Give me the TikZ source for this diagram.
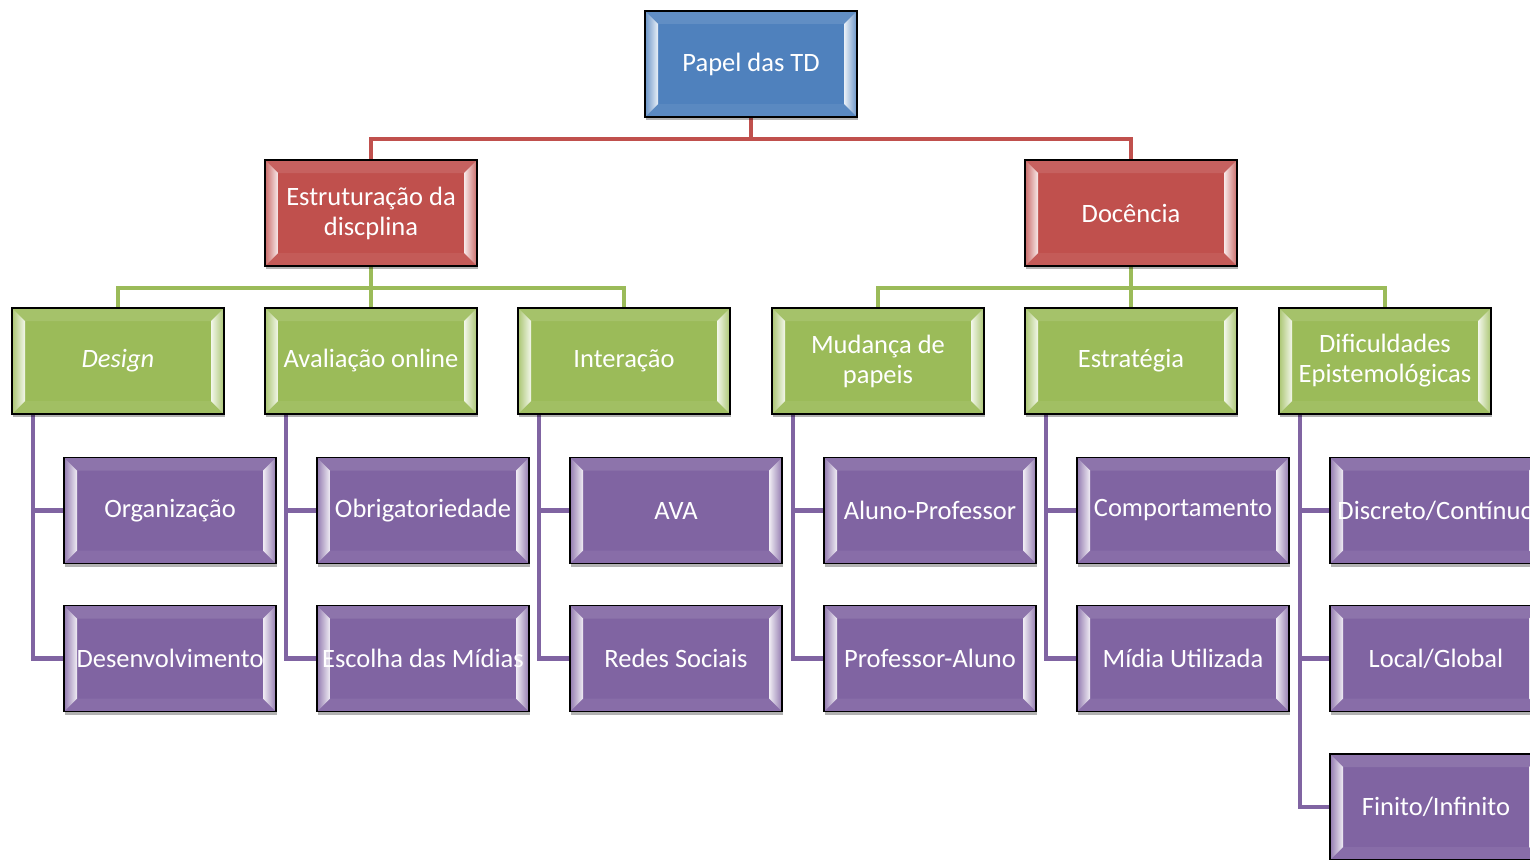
\documentclass[tikz,border=0pt]{standalone}
\usepackage{fontspec}
\setmainfont{Carlito}
\usetikzlibrary{shadows,calc,backgrounds}

\definecolor{tdblue}{HTML}{4F81BD}
\definecolor{tdred}{HTML}{C0504D}
\definecolor{tdgreen}{HTML}{9BBB59}
\definecolor{tdpurple}{HTML}{8064A2}

% bevelled box: light strips along the left and right edges, faint ones top and bottom
\newcommand\bevelstrips[1]{%
  \coordinate (pnw) at (path picture bounding box.north west);
  \coordinate (pne) at (path picture bounding box.north east);
  \coordinate (psw) at (path picture bounding box.south west);
  \coordinate (pse) at (path picture bounding box.south east);
  \fill[#1!90!white] (pnw) -- (pne) -- ($(pne)+(-13pt,-13pt)$) -- ($(pnw)+(13pt,-13pt)$) -- cycle;
  \fill[#1!94!white] (psw) -- (pse) -- ($(pse)+(-13pt,13pt)$) -- ($(psw)+(13pt,13pt)$) -- cycle;
  \shade[left color=#1!85!white, right color=#1!12!white]
    (pnw) -- ($(pnw)+(13pt,-13pt)$) -- ($(psw)+(13pt,13pt)$) -- (psw) -- cycle;
  \shade[left color=#1!12!white, right color=#1!85!white]
    (pne) -- ($(pne)+(-13pt,-13pt)$) -- ($(pse)+(-13pt,13pt)$) -- (pse) -- cycle;
}

\tikzset{
  box/.style={draw=black, line width=1.6pt, fill=#1,
    minimum width=212pt, minimum height=106pt, inner sep=0pt,
    text=white, align=center, font=\fontsize{26.5}{30}\selectfont,
    drop shadow={shadow xshift=1pt, shadow yshift=-3pt, opacity=0.3, fill=black},
    path picture={\bevelstrips{#1}}},
  redlink/.style={draw=tdred, line width=4.5pt},
  greenlink/.style={draw=tdgreen, line width=4.5pt},
  purplelink/.style={draw=tdpurple, line width=4.5pt},
}

\begin{document}
\begin{tikzpicture}[x=1pt, y=-1pt]
\useasboundingbox (0,0) rectangle (1530,859);
\clip (0,0) rectangle (1530,859);

% root and first level
\node[box=tdblue] (root) at (751,64) {Papel das TD};
\node[box=tdred] (est) at (371,213) {Estruturação da\\discplina};
\node[box=tdred] (doc) at (1131,213) {Docência};

% second level
\node[box=tdgreen] (des) at (118,361) {\itshape Design};
\node[box=tdgreen] (ava) at (371,361) {Avaliação online};
\node[box=tdgreen] (int) at (624,361) {Interação};
\node[box=tdgreen] (mud) at (878,361) {Mudança de\\papeis};
\node[box=tdgreen] (etg) at (1131,361) {Estratégia};
\node[box=tdgreen] (dif) at (1385,361) {Dificuldades\\Epistemológicas};

% third level
\node[box=tdpurple] (org) at (170,510.5) {Organização};
\node[box=tdpurple] (dsv) at (170,658.5) {Desenvolvimento};
\node[box=tdpurple] (obr) at (423,510.5) {Obrigatoriedade};
\node[box=tdpurple] (esc) at (423,658.5) {Escolha das Mídias};
\node[box=tdpurple] (avm) at (676,510.5) {AVA};
\node[box=tdpurple] (red) at (676,658.5) {Redes Sociais};
\node[box=tdpurple] (alp) at (930,510.5) {Aluno-Professor};
\node[box=tdpurple] (pal) at (930,658.5) {Professor-Aluno};
\node[box=tdpurple] (com) at (1183,510.5) {Comportamento};
\node[box=tdpurple] (mid) at (1183,658.5) {Mídia Utilizada};
\node[box=tdpurple] (dis) at (1436,510.5) {Discreto/Contínuo};
\node[box=tdpurple] (loc) at (1436,658.5) {Local/Global};
\node[box=tdpurple] (fin) at (1436,807) {Finito/Infinito};

% connectors, behind the boxes
\begin{scope}[on background layer]
\path[redlink] (root.south) -- ++(0,21) -| (est.north);
\path[redlink] (root.south) -- ++(0,21) -| (doc.north);

\foreach \c in {des,ava,int}
  \path[greenlink] (est.south) -- ++(0,21) -| (\c.north);
\foreach \c in {mud,etg,dif}
  \path[greenlink] (doc.south) -- ++(0,21) -| (\c.north);

\foreach \p/\c in {des/org,des/dsv,ava/obr,ava/esc,int/avm,int/red,
                   mud/alp,mud/pal,etg/com,etg/mid,dif/dis,dif/loc,dif/fin}
  \path[purplelink] ([xshift=22pt]\p.south west) |- (\c.west);
\end{scope}
\end{tikzpicture}
\end{document}
